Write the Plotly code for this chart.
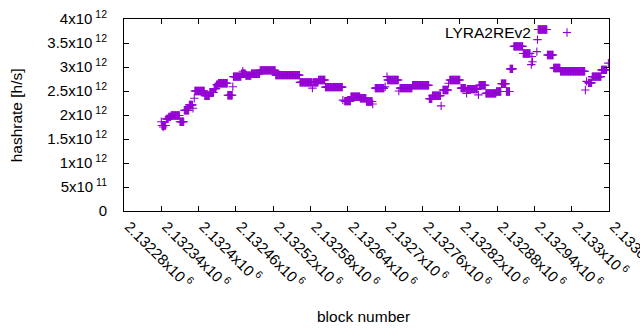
import plotly.graph_objects as go

# Runs of constant hashrate: (first block, last block, hashrate in 1e12 h/s)
run_start = [2132340, 2132341, 2132343, 2132348, 2132352, 2132356, 2132370, 2132377, 2132385, 2132391,
             2132393, 2132394, 2132410, 2132418, 2132425, 2132429, 2132432, 2132447, 2132455, 2132456,
             2132469, 2132471, 2132476, 2132485, 2132499, 2132524, 2132563, 2132583, 2132584, 2132593,
             2132604, 2132632, 2132635, 2132645, 2132660, 2132670, 2132680, 2132684, 2132700, 2132703,
             2132704, 2132722, 2132724, 2132744, 2132771, 2132776, 2132790, 2132793, 2132802, 2132804,
             2132822, 2132831, 2132832, 2132850, 2132851, 2132862, 2132879, 2132887, 2132895, 2132901,
             2132907, 2132922, 2132935, 2132936, 2132937, 2132944, 2132945, 2132946, 2132961, 2132971,
             2132982, 2133022, 2133024, 2133027, 2133033, 2133048, 2133059]
run_end = [2132340, 2132347, 2132343, 2132351, 2132355, 2132369, 2132376, 2132384, 2132390, 2132391,
           2132393, 2132409, 2132417, 2132424, 2132428, 2132431, 2132446, 2132454, 2132455, 2132468,
           2132475, 2132471, 2132484, 2132498, 2132523, 2132562, 2132582, 2132583, 2132592, 2132603,
           2132631, 2132632, 2132644, 2132659, 2132669, 2132679, 2132680, 2132698, 2132700, 2132703,
           2132721, 2132722, 2132743, 2132770, 2132775, 2132789, 2132790, 2132801, 2132802, 2132820,
           2132829, 2132831, 2132848, 2132850, 2132861, 2132878, 2132886, 2132894, 2132900, 2132905,
           2132921, 2132933, 2132935, 2132936, 2132937, 2132944, 2132945, 2132960, 2132970, 2132981,
           2133021, 2133022, 2133024, 2133032, 2133047, 2133056, 2133059]
run_hashrate_e12 = [1.86, 1.78, 1.75, 1.92, 1.96, 1.99, 1.86, 2.10, 2.21, 2.14,
                    2.35, 2.50, 2.40, 2.47, 2.55, 2.63, 2.66, 2.41, 2.59, 2.80,
                    2.86, 2.91, 2.82, 2.86, 2.93, 2.83, 2.68, 2.56, 2.68, 2.73,
                    2.58, 2.31, 2.29, 2.38, 2.35, 2.28, 2.23, 2.56, 2.59, 2.80,
                    2.73, 2.50, 2.56, 2.62, 2.34, 2.40, 2.19, 2.52, 2.66, 2.73,
                    2.56, 2.45, 2.54, 2.42, 2.62, 2.45, 2.49, 2.65, 2.49, 2.96,
                    3.43, 3.28, 3.05, 3.22, 3.11, 3.32, 3.57, 3.78, 3.25, 2.98,
                    2.91, 2.52, 2.70, 2.67, 2.80, 2.94, 3.08]

x_tick_vals = [2132280, 2132340, 2132400, 2132460, 2132520, 2132580, 2132640,
               2132700, 2132760, 2132820, 2132880, 2132940, 2133000, 2133060]
x_tick_mant = ["2.13228", "2.13234", "2.1324", "2.13246", "2.13252", "2.13258", "2.13264",
               "2.1327", "2.13276", "2.13282", "2.13288", "2.13294", "2.133", "2.13306"]
y_tick_vals = [0, 0.5e12, 1e12, 1.5e12, 2e12, 2.5e12, 3e12, 3.5e12, 4e12]
y_tick_mant = ["0", "5", "1", "1.5", "2", "2.5", "3", "3.5", "4"]
y_tick_exp = ["", "11", "12", "12", "12", "12", "12", "12", "12"]

blocks, rates = [], []
for s, e, h in zip(run_start, run_end, run_hashrate_e12):
    for b in range(s, e + 1):
        blocks.append(b)
        rates.append(h * 1e12)

COLOR = "#9400D3"
FONT = "Liberation Sans, Arial, sans-serif"

fig = go.Figure()
fig.add_trace(go.Scatter(
    x=blocks, y=rates, mode="markers", name="LYRA2REv2", showlegend=False,
    marker=dict(symbol="cross-thin", size=6, color=COLOR, line=dict(width=1.1, color=COLOR)),
))

x_text = [f"{m}x10<sup> 6</sup>" for m in x_tick_mant]
y_text = [m if not ex else f"{m}x10<sup> {ex}</sup>" for m, ex in zip(y_tick_mant, y_tick_exp)]

axis_common = dict(showline=True, linecolor="black", linewidth=1, mirror="allticks",
                   ticks="inside", ticklen=5, tickcolor="black", tickwidth=1,
                   showgrid=False, zeroline=False, ticklabeloverflow="allow",
                   tickfont=dict(family=FONT, size=15, color="black"))

fig.update_xaxes(range=[2132280, 2133060], tickvals=x_tick_vals, ticktext=x_text,
                 tickangle=45, ticklabelstandoff=0, ticklabelshift=5, **axis_common)
fig.update_yaxes(range=[0, 4e12], tickvals=y_tick_vals, ticktext=y_text,
                 ticklabelstandoff=13, **axis_common)

# axis titles and key
fig.add_annotation(text="block number", xref="paper", yref="paper", x=0.4948, y=-0.547,
                   showarrow=False, font=dict(family=FONT, size=15.5, color="black"),
                   xanchor="center", yanchor="middle")
fig.add_annotation(text="hashrate [h/s]", xref="paper", yref="paper", x=-0.222, y=0.5,
                   textangle=-90, showarrow=False, font=dict(family=FONT, size=15.5, color="black"),
                   xanchor="center", yanchor="middle")
fig.add_annotation(text="LYRA2REv2", xref="paper", yref="paper", x=0.8433, y=0.932,
                   showarrow=False, font=dict(family=FONT, size=15.5, color="black"),
                   xanchor="right", yanchor="middle")
kx, ky = 0.9134, 0.9297
fig.add_shape(type="line", xref="paper", yref="paper", x0=kx - 0.0085, x1=kx + 0.0085, y0=ky, y1=ky,
              line=dict(color=COLOR, width=1.1))
fig.add_shape(type="line", xref="paper", yref="paper", x0=kx, x1=kx, y0=ky - 0.0215, y1=ky + 0.0215,
              line=dict(color=COLOR, width=1.1))

fig.update_layout(width=640, height=330, margin=dict(l=124, r=31, t=19, b=119, autoexpand=False),
                  paper_bgcolor="white", plot_bgcolor="white",
                  font=dict(family=FONT, size=15, color="black"))
# remove the default page margin so the 640x330 figure fills the window exactly
fig.write_html("out.html", config={"displayModeBar": False},
               post_script="document.body.style.margin='0';document.body.style.overflow='hidden';")
